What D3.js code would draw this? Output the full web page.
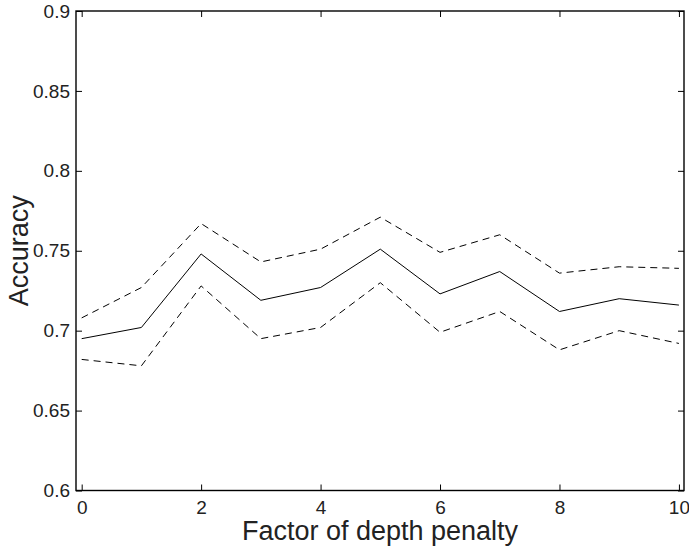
<!DOCTYPE html>
<html>
<head>
<meta charset="utf-8">
<title>Accuracy vs depth penalty</title>
<script src="https://cdn.jsdelivr.net/npm/d3@7"></script>
<style>
body{ margin:0; background:#fff; }
svg{ display:block; font-family:"Liberation Sans", Arial, Helvetica, sans-serif; }
</style>
</head>
<body>
<svg width="689" height="551"></svg>
<script>
// data
var factors = [0, 1, 2, 3, 4, 5, 6, 7, 8, 9, 10];
var accMean  = [0.695, 0.702, 0.748, 0.719, 0.727, 0.751, 0.723, 0.737, 0.712, 0.720, 0.716];
var accUpper = [0.708, 0.727, 0.767, 0.743, 0.751, 0.771, 0.749, 0.760, 0.736, 0.740, 0.739];
var accLower = [0.682, 0.678, 0.728, 0.695, 0.702, 0.730, 0.699, 0.712, 0.688, 0.700, 0.692];
var xTicks = [0, 2, 4, 6, 8, 10];
var yTicks = [0.6, 0.65, 0.7, 0.75, 0.8, 0.85, 0.9];

var plotL = 76, plotR = 684, plotT = 11, plotB = 490.5;

var svg = d3.select("svg");

var x = d3.scaleLinear().domain([-0.095, 10.085]).range([plotL, plotR]);
var y = d3.scaleLinear().domain([0.6, 0.9]).range([plotB, plotT]);

// ticks on all four sides, pointing in
function styleAxis(g){
    g.select(".domain").remove();
    g.selectAll(".tick line").attr("stroke", "#000").attr("stroke-width", 1);
    g.selectAll(".tick text").attr("fill", "#222").style("font-size", "19px");
}

svg.append("g").attr("transform", "translate(0," + plotB + ")")
   .call(d3.axisBottom(x).tickValues(xTicks).tickSizeInner(-6).tickSizeOuter(0).tickPadding(10).tickFormat(d3.format("d")))
   .call(styleAxis);
svg.append("g").attr("transform", "translate(0," + plotT + ")")
   .call(d3.axisTop(x).tickValues(xTicks).tickSizeInner(-6).tickSizeOuter(0).tickFormat(""))
   .call(styleAxis);
svg.append("g").attr("transform", "translate(" + plotL + ",0)")
   .call(d3.axisLeft(y).tickValues(yTicks).tickSizeInner(-6).tickSizeOuter(0).tickPadding(6).tickFormat(function(d){ return String(+d.toFixed(2)); }))
   .call(styleAxis);
svg.append("g").attr("transform", "translate(" + plotR + ",0)")
   .call(d3.axisRight(y).tickValues(yTicks).tickSizeInner(-6).tickSizeOuter(0).tickFormat(""))
   .call(styleAxis);

svg.append("rect")
   .attr("x", plotL).attr("y", plotT)
   .attr("width", plotR - plotL).attr("height", plotB - plotT)
   .attr("fill", "none").attr("stroke", "#000").attr("stroke-width", 1.4);

var line = d3.line()
    .x(function(d, i){ return x(factors[i]); })
    .y(function(d){ return y(d); });

svg.append("path").datum(accUpper).attr("d", line)
   .attr("fill", "none").attr("stroke", "#000").attr("stroke-width", 1)
   .attr("stroke-dasharray", "7,5");
svg.append("path").datum(accLower).attr("d", line)
   .attr("fill", "none").attr("stroke", "#000").attr("stroke-width", 1)
   .attr("stroke-dasharray", "7,5");
svg.append("path").datum(accMean).attr("d", line)
   .attr("fill", "none").attr("stroke", "#000").attr("stroke-width", 1);

svg.append("text")
   .attr("x", (plotL + plotR) / 2).attr("y", 540)
   .attr("text-anchor", "middle").attr("fill", "#222")
   .style("font-size", "27px")
   .text("Factor of depth penalty");

svg.append("text")
   .attr("transform", "translate(28," + (plotT + plotB) / 2 + ") rotate(-90)")
   .attr("text-anchor", "middle").attr("fill", "#222")
   .style("font-size", "27px")
   .text("Accuracy");
</script>
</body>
</html>
